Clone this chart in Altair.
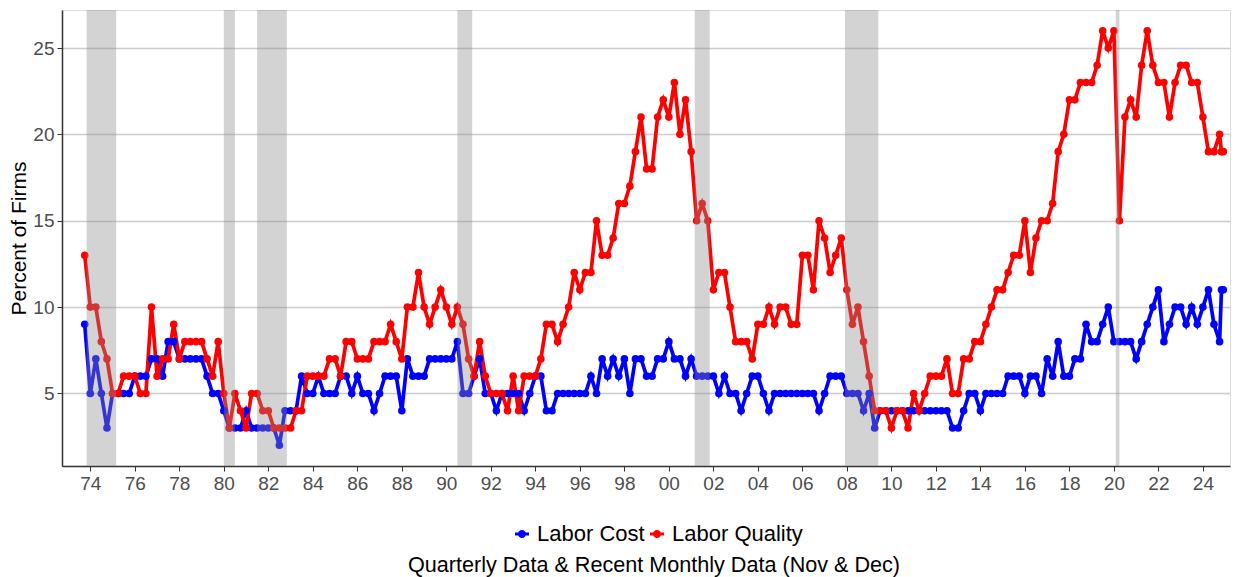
import altair as alt
import pandas as pd

# Quarterly values from Oct 1973 to Oct 2024, then monthly Nov & Dec 2024
labor_quality = [
    13, 10, 10, 8, 7, 5, 5, 6, 6, 6, 5, 5,
    10, 6, 7, 7, 9, 7, 8, 8, 8, 8, 7, 6,
    8, 5, 3, 5, 4, 3, 5, 5,
    4, 4, 3, 3, 3, 3, 4, 4,
    6, 6, 6, 6, 7, 7, 6, 8,
    8, 7, 7, 7, 8, 8, 8, 9,
    8, 7, 10, 10,
    12, 10, 9, 10, 11, 10, 9, 10, 9, 7,
    6, 8, 6, 5, 5, 5, 4, 6, 4, 6,
    6, 6, 7, 9, 9, 8, 9, 10, 12, 11,
    12, 12, 15, 13, 13, 14, 16, 16, 17, 19,
    21, 18, 18, 21, 22, 21, 23, 20, 22, 19,
    15, 16, 15, 11, 12, 12, 10, 8, 8, 8,
    7, 9, 9, 10, 9, 10, 10, 9, 9, 13,
    13, 11, 15, 14, 12, 13, 14, 11, 9, 10,
    8, 6, 4, 4, 4, 3, 4, 4, 3, 5,
    4, 5, 6, 6, 6, 7, 5, 5, 7, 7,
    8, 8, 9, 10, 11, 11, 12, 13, 13, 15,
    12, 14, 15, 15, 16, 19, 20, 22, 22, 23,
    23, 23, 24, 26, 25, 26, 15, 21, 22, 21,
    24, 26, 24, 23, 23, 21, 23, 24, 24, 23,
    23, 21, 19, 19, 20,
    19, 19,
]

labor_cost = [
    9, 5, 7, 5, 3, 5, 5, 5, 5, 6, 6, 6,
    7, 7, 6, 8, 8, 7, 7, 7, 7, 7, 6, 5,
    5, 4, 3, 3, 3, 4, 3, 3,
    3, 3, 3, 2, 4, 4, 4, 6,
    5, 5, 6, 5, 5, 5, 6, 6,
    5, 6, 5, 5, 4, 5, 6, 6,
    6, 4, 7, 6,
    6, 6, 7, 7, 7, 7, 7, 8, 5, 5,
    6, 7, 5, 5, 4, 5, 5, 5, 5, 4,
    5, 6, 6, 4, 4, 5, 5, 5, 5, 5,
    5, 6, 5, 7, 6, 7, 6, 7, 5, 7,
    7, 6, 6, 7, 7, 8, 7, 7, 6, 7,
    6, 6, 6, 6, 5, 6, 5, 5, 4, 5,
    6, 6, 5, 4, 5, 5, 5, 5, 5, 5,
    5, 5, 4, 5, 6, 6, 6, 5, 5, 5,
    4, 5, 3, 4, 4, 4, 4, 4, 4, 4,
    4, 4, 4, 4, 4, 4, 3, 3, 4, 5,
    5, 4, 5, 5, 5, 5, 6, 6, 6, 5,
    6, 6, 5, 7, 6, 8, 6, 6, 7, 7,
    9, 8, 8, 9, 10, 8, 8, 8, 8, 7,
    8, 9, 10, 11, 8, 9, 10, 10, 9, 10,
    9, 10, 11, 9, 8,
    11, 11,
]

quarter_dates = [d.strftime("%Y-%m-%d") for d in pd.date_range("1973-10-01", periods=205, freq="QS")]
monthly_dates = ["2024-11-01", "2024-12-01"]
dates = quarter_dates + monthly_dates

rec_start = ["1973-11-01", "1980-01-01", "1981-07-01", "1990-07-01", "2001-03-01", "2007-12-01", "2020-02-01"]
rec_end = ["1975-03-01", "1980-07-01", "1982-11-01", "1991-03-01", "2001-11-01", "2009-06-01", "2020-04-01"]

series_names = ["Labor Cost", "Labor Quality"]
series_colors = ["#0000FF", "#FF0000"]

df = pd.DataFrame({
    "date": dates * 2,
    "value": labor_cost + labor_quality,
    "series": ["Labor Cost"] * len(dates) + ["Labor Quality"] * len(dates),
    "order": [0] * len(dates) + [1] * len(dates),
})
rec = pd.DataFrame({"start": rec_start, "end": rec_end})

FONT = "Liberation Sans"

x_scale = alt.Scale(
    type="utc",
    domain=[alt.DateTime(year=1972, month=9, date=23, utc=True),
            alt.DateTime(year=2025, month=3, date=21, utc=True)],
)
x_axis = alt.Axis(
    values=[alt.DateTime(year=y, month=1, date=1, utc=True) for y in range(1974, 2025, 2)],
    format="%y", title=None, grid=False, labelFontSize=19, labelColor="#4D4D4D",
    labelFont=FONT, tickColor="#333333", tickSize=5, domainColor="#333333",
    domainWidth=1.5, labelPadding=3,
)
y_scale = alt.Scale(domain=[0.8, 27.2], nice=False, zero=False)
y_axis = alt.Axis(
    values=[5, 10, 15, 20, 25], title="Percent of Firms", titleFontSize=21,
    titleFont=FONT, titleFontWeight="normal", titleColor="#000000",
    labelFontSize=19, labelColor="#4D4D4D", labelFont=FONT, grid=True,
    gridColor="#CCCCCC", gridWidth=1.5, tickColor="#333333", tickSize=5,
    domainColor="#333333", domainWidth=1.5, labelPadding=3, titlePadding=3,
)

legend_symbol = ("M-1,-0.2L1,-0.2L1,0.2L-1,0.2Z"
                 "M0.58,0A0.58,0.58,0,1,1,-0.58,0A0.58,0.58,0,1,1,0.58,0Z")

color = alt.Color(
    "series:N",
    scale=alt.Scale(domain=series_names, range=series_colors),
    legend=alt.Legend(
        title=None, orient="none", direction="horizontal",
        legendX=449, legendY=513,
        labelFontSize=22, labelFont=FONT, labelColor="#000000",
        symbolType=legend_symbol, symbolSize=196, symbolStrokeWidth=0,
        columnPadding=1, labelOffset=4,
    ),
)

base = alt.Chart(df).encode(
    x=alt.X("date:T", scale=x_scale, axis=x_axis),
    y=alt.Y("value:Q", scale=y_scale, axis=y_axis),
    color=color,
    order=alt.Order("order:Q"),
)

lines = base.mark_line(strokeWidth=3.7)
points = base.mark_point(filled=True, size=58, opacity=1)

rects = alt.Chart(rec).mark_rect(color="#8c8c8c", opacity=0.38).encode(
    x=alt.X("start:T", scale=x_scale),
    x2="end:T",
)

chart = alt.layer(lines, points, rects).properties(
    width=1168,
    height=456,
    padding={"left": 0, "top": 2, "right": 7, "bottom": 0},
    title=alt.TitleParams(
        text="Quarterly Data & Recent Monthly Data (Nov & Dec)",
        orient="bottom", anchor="middle", fontSize=21.6, font=FONT,
        fontWeight="normal", color="#000000", offset=10, dx=8,
    ),
).configure_view(stroke=None).configure(background="white")

chart.save("out.html", embed_options={"renderer": "svg", "actions": False})
